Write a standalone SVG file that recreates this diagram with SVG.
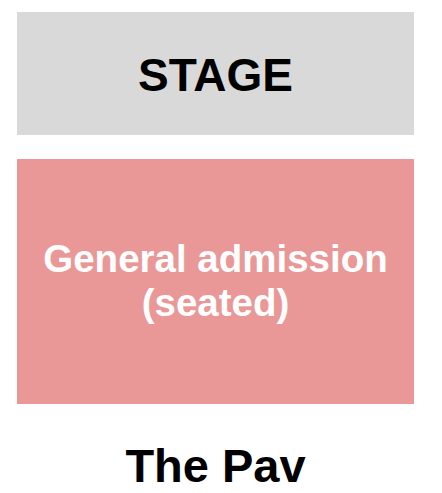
<svg xmlns="http://www.w3.org/2000/svg" width="442" height="493" viewBox="0 0 442 493">
<style>
text{font-family:"Liberation Sans",Arial,sans-serif;font-weight:bold;text-anchor:middle}
.dark{fill:#000}
.light{fill:#fff}
</style>
<rect width="442" height="493" fill="#fff"/>
<g id="stage">
<rect x="17" y="12" width="397" height="123" fill="#d9d9d9"/>
<text class="dark" x="215.5" y="90.5" font-size="46">STAGE</text>
</g>
<g id="general-admission">
<rect x="17" y="159" width="397" height="245" fill="#e99897"/>
<text class="light" x="215.5" y="271.5" font-size="38.5">General admission</text>
<text class="light" x="215.5" y="315.7" font-size="38.5">(seated)</text>
</g>
<g id="title">
<text class="dark" x="215.5" y="481.7" font-size="47">The Pav</text>
</g>
<g id="connectors"></g>
</svg>
